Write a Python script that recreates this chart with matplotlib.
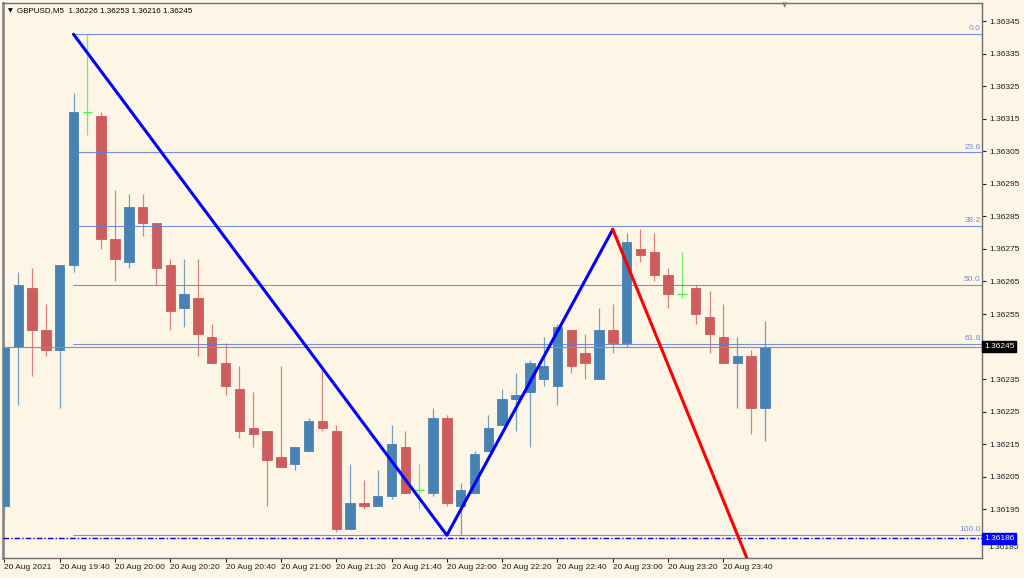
import matplotlib.pyplot as plt
import numpy as np

# GBPUSD M5 candles, 20 Aug 2021 19:20 .. 23:55
opens = [1.36196, 1.36245, 1.36263, 1.36250, 1.36244, 1.36270, 1.36317, 1.36316,
         1.36278, 1.36271, 1.36288, 1.36283, 1.36270, 1.36257, 1.36260, 1.36248,
         1.36240, 1.36232, 1.36220, 1.36219, 1.36211, 1.36209, 1.36213, 1.36222,
         1.36219, 1.36189, 1.36197, 1.36196, 1.36199, 1.36214, 1.36201, 1.36200,
         1.36223, 1.36196, 1.36200, 1.36213, 1.36221, 1.36229, 1.36231, 1.36235,
         1.36233, 1.36250, 1.36243, 1.36235, 1.36250, 1.36246, 1.36275, 1.36274,
         1.36267, 1.36261, 1.36263, 1.36254, 1.36248, 1.36240, 1.36242, 1.36226]
highs = [1.36246, 1.36268, 1.36269, 1.36258, 1.36270, 1.36323, 1.36341, 1.36317,
         1.36293, 1.36292, 1.36292, 1.36283, 1.36272, 1.36272, 1.36272, 1.36252,
         1.36246, 1.36239, 1.36231, 1.36219, 1.36239, 1.36214, 1.36223, 1.36238,
         1.36221, 1.36209, 1.36204, 1.36207, 1.36221, 1.36219, 1.36209, 1.36226,
         1.36224, 1.36203, 1.36213, 1.36224, 1.36232, 1.36237, 1.36241, 1.36248,
         1.36252, 1.36250, 1.36249, 1.36257, 1.36258, 1.36280, 1.36281, 1.36280,
         1.36269, 1.36274, 1.36264, 1.36262, 1.36258, 1.36248, 1.36244, 1.36253]
lows = [1.36192, 1.36227, 1.36236, 1.36242, 1.36226, 1.36268, 1.36310, 1.36275,
        1.36265, 1.36269, 1.36279, 1.36264, 1.36250, 1.36251, 1.36242, 1.36240,
        1.36230, 1.36217, 1.36214, 1.36196, 1.36208, 1.36207, 1.36213, 1.36219,
        1.36188, 1.36189, 1.36195, 1.36196, 1.36198, 1.36200, 1.36195, 1.36199,
        1.36196, 1.36187, 1.36200, 1.36213, 1.36221, 1.36219, 1.36214, 1.36233,
        1.36227, 1.36237, 1.36235, 1.36235, 1.36243, 1.36245, 1.36271, 1.36265,
        1.36257, 1.36260, 1.36252, 1.36243, 1.36240, 1.36226, 1.36218, 1.36216]
closes = [1.36245, 1.36264, 1.36250, 1.36244, 1.36270, 1.36317, 1.36317, 1.36278,
          1.36272, 1.36288, 1.36283, 1.36269, 1.36256, 1.36261, 1.36249, 1.36240,
          1.36233, 1.36219, 1.36218, 1.36210, 1.36208, 1.36214, 1.36222, 1.36220,
          1.36189, 1.36197, 1.36196, 1.36199, 1.36215, 1.36200, 1.36201, 1.36223,
          1.36197, 1.36201, 1.36212, 1.36220, 1.36229, 1.36230, 1.36240, 1.36239,
          1.36251, 1.36239, 1.36240, 1.36250, 1.36246, 1.36277, 1.36273, 1.36267,
          1.36261, 1.36261, 1.36255, 1.36249, 1.36240, 1.36242, 1.36226, 1.36245]

tick_pos = [0, 4, 8, 12, 16, 20, 24, 28, 32, 36, 40, 44, 48, 52]
tick_labels = ['20 Aug 2021', '20 Aug 19:40', '20 Aug 20:00', '20 Aug 20:20',
               '20 Aug 20:40', '20 Aug 21:00', '20 Aug 21:20', '20 Aug 21:40',
               '20 Aug 22:00', '20 Aug 22:20', '20 Aug 22:40', '20 Aug 23:00',
               '20 Aug 23:20', '20 Aug 23:40']
price_ticks = [1.36345, 1.36335, 1.36325, 1.36315, 1.36305, 1.36295, 1.36285,
               1.36275, 1.36265, 1.36255, 1.36245, 1.36235, 1.36225, 1.36215,
               1.36205, 1.36195, 1.36185]

# zigzag swing points (bar index, price)
zz_x = [5, 32, 44]
zz_y = [1.36341, 1.36187, 1.36281]
red_x = [44, 56]
red_y = [1.36281, 1.36156]

fib_pct = [0.0, 23.6, 38.2, 50.0, 61.8, 100.0]
hline_price = 1.36186

bg = '#fdf5e6'
bull = '#4682b4'
bear = '#cd5c5c'
doji = '#44ee44'
fib_col = '#5b7fe3'

plt.rcParams['font.family'] = ['Liberation Sans', 'DejaVu Sans']

fig = plt.figure(figsize=(10.24, 5.78), dpi=100, facecolor=bg)
ax = fig.add_axes([3 / 1024, 20 / 578, 979 / 1024, 555 / 578], facecolor=bg)

o = np.array(opens)
h = np.array(highs)
l = np.array(lows)
c = np.array(closes)
x = np.arange(len(o))

for i in range(len(x)):
    if c[i] > o[i]:
        col = bull
    elif c[i] < o[i]:
        col = bear
    else:
        col = doji
    ax.vlines(x[i], l[i], h[i], color=col, lw=0.9, alpha=0.75, zorder=2)
    if col == doji:
        ax.hlines(o[i], x[i] - 0.35, x[i] + 0.35, color=col, lw=0.9, zorder=3)
    else:
        bot = min(o[i], c[i])
        ht = max(abs(c[i] - o[i]), 0.000003)
        ax.bar(x[i], ht, bottom=bot, width=0.68, color=col,
               edgecolor=col, lw=0.6, zorder=3)

# fibonacci levels
hi, lo = zz_y[0], zz_y[1]
for p in fib_pct:
    lev = hi - (hi - lo) * p / 100
    ax.hlines(lev, zz_x[0] - 0.05, 80, color=fib_col, lw=0.8, alpha=0.85, zorder=4)
    ax.text(0.9985, lev + 0.000006, f'{p:.1f}', transform=ax.get_yaxis_transform(),
            color='#6f8fe0', fontsize=6, ha='right', va='bottom', zorder=5)

# bid line and horizontal line
ax.axhline(closes[-1], color='#8f8f8f', lw=0.8, zorder=4)
ax.axhline(hline_price, color='#0000ff', lw=1.0,
           linestyle=(0, (4, 1.5, 1, 1.5)), zorder=4)

# zigzag
ax.plot(zz_x, zz_y, color='#0000ff', lw=2.2, zorder=6, solid_capstyle='round')
ax.plot(red_x, red_y, color='#ff0000', lw=2.2, zorder=6)

ax.set_xlim(-0.1, 70.7)
ax.set_ylim(1.36180, 1.363506)

# price scale; the bid and line labels sit over their own ticks
ax.yaxis.tick_right()
ax.set_yticks(price_ticks)
ylabels = []
for v in price_ticks:
    if abs(v - closes[-1]) < 1e-7 or abs(v - 1.36185) < 1e-7:
        ylabels.append('')
    else:
        ylabels.append(f'{v:.5f}')
ax.set_yticklabels(ylabels)
ax.tick_params(axis='y', length=3, width=0.8, pad=2, labelsize=6, colors='#202020')
ax.set_xticks(tick_pos)
ax.set_xticklabels(tick_labels)
ax.tick_params(axis='x', length=3, width=0.8, pad=1, labelsize=6, colors='#202020')
for lab in ax.get_xticklabels():
    lab.set_ha('left')

for s in ax.spines.values():
    s.set_color('#6e6e6e')
    s.set_linewidth(1.0)
ax.spines['left'].set_linewidth(2.0)
ax.spines['left'].set_color('#8a8a8a')

# price labels on the right scale
ytr = ax.get_yaxis_transform()
ax.text(1.002, closes[-1], f'{closes[-1]:.5f}', transform=ytr, color='white',
        fontsize=6, ha='left', va='center', zorder=10, clip_on=False,
        bbox=dict(boxstyle='square,pad=0.25', fc='black', ec='black'))
ax.text(1.002, hline_price, f'{hline_price:.5f}', transform=ytr, color='white',
        fontsize=6, ha='left', va='center', zorder=10, clip_on=False,
        bbox=dict(boxstyle='square,pad=0.25', fc='#0000ff', ec='#0000ff'))
ax.text(1.0062, hline_price - 0.000017, '1.36185', transform=ytr, color='#202020',
        fontsize=6, ha='left', va='top', zorder=9, clip_on=False)

# header
fig.text(8 / 1024, 1 - 11 / 578, '\u25bc', fontsize=4.5, color='black',
         ha='left', va='center', family='DejaVu Sans')
fig.text(17 / 1024, 1 - 11 / 578,
         'GBPUSD,M5  %.5f %.5f %.5f %.5f' % (opens[-1], highs[-1], lows[-1], closes[-1]),
         fontsize=5.8, color='black', ha='left', va='center')
fig.text(785 / 1024, 1 - 5 / 578, '\u25bc', fontsize=5, color='#808080',
         ha='center', va='center', family='DejaVu Sans')

fig.savefig('out.png', dpi=100, facecolor=bg)
